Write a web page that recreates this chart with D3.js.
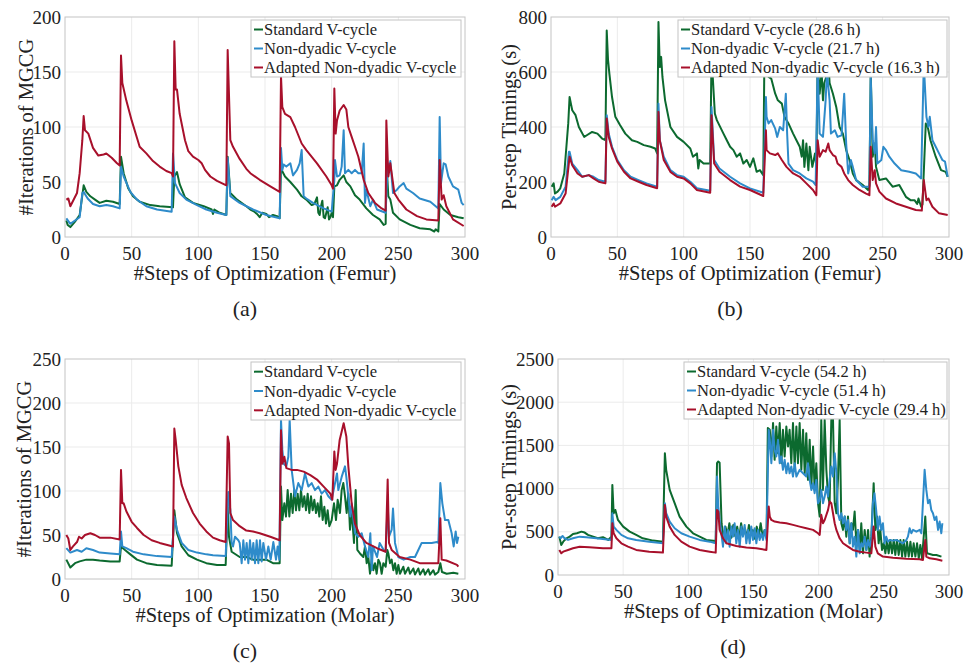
<!DOCTYPE html>
<html>
<head>
<meta charset="utf-8">
<script src="https://cdn.jsdelivr.net/npm/d3@7"></script>
<style>
  body { margin: 0; background: #fff; }
</style>
</head>
<body>
<script>
// ---- data: [step, value] ----
var femurItStd = [[1,15],[2,11],[4,9],[7.5,14],[11,20],[14,47],[16,41],[19,37],[22.5,34],[26,31],[31,33],[36,32],[41,30],[42,73],[44,58],[47.5,44],[51,37],[56,32],[64,29],[71,28],[81,27],[82,55],[84,59],[86,48],[90,36],[96,31],[104,28],[110,25],[111,21],[112,25],[116,22],[121,20],[122,73],[124,40],[129,34],[136,28],[139,25],[142,23],[144,21],[146,18],[148,22],[151,21],[153,18],[156,20],[159,19],[161,17],[162,62],[165,55],[169,50],[174,43],[177.5,37],[181,34],[185,29],[187,30],[189,36],[190,22],[191,20],[192,28],[193,33],[194,18],[195,17],[197,27],[198,16],[199,18],[200,22],[201,18],[202,46],[204,47],[206,52],[209,56],[211,50],[214,46],[217.5,38],[221,34],[226,26],[231,20],[236,16],[239,11],[240.5,12],[241,70],[242.5,37],[244,34],[246,22],[251,16],[259,11],[266,8],[274,7],[277,5],[278,7],[280,5],[281,30],[284,25],[289,20],[295,18],[299,17]];
var femurItNon = [[1,17],[4,12],[7.5,15],[11,18],[13,40],[14,41],[17,35],[21,30],[26,28],[31,29],[36,28],[41,26],[42,64],[44,55],[49,41],[54,34],[61,28],[69,25],[80,23],[81,76],[82.5,49],[86,40],[91,34],[99,29],[106,25],[114,22],[121,20],[122,72],[124,37],[131,31],[141,25],[151,20],[161,17],[162,81],[163,61],[164,66],[166,64],[169,67],[171,56],[174,61],[176,67],[177.5,79],[179,37],[181,35],[186,31],[194,26],[200,23],[202,52],[202.5,70],[204,55],[206,56],[207.5,64],[209,97],[210,58],[212.5,61],[215,58],[217.5,61],[220,58],[222.5,58],[224,85],[225,31],[226,43],[229,28],[231,34],[234,25],[240.5,22],[242,67],[243,61],[244,69],[246,40],[249,43],[251,46],[254,49],[256,44],[261,40],[266,35],[274,32],[280,26],[281,109],[282,49],[284,67],[285.5,66],[287.5,55],[291,46],[295,43],[297.5,31],[299,29]];
var femurItAda = [[1,34],[2.5,35],[4,28],[9,40],[11,58],[13,88],[14,110],[15,97],[17.5,94],[21,81],[25,74],[29,75],[31,76],[35,72],[39,67],[41,65],[42,165],[43,140],[46,124],[50,106],[54,90],[56,82],[61,76],[66,69],[71,64],[76,60],[80,58],[81,55],[82,178],[83,134],[84,134],[86,112],[90,88],[92.5,78],[96,73],[100,70],[102.5,67],[105,61],[109,55],[114,51],[121,47],[122,170],[124,88],[126,82],[131,71],[136,62],[139,58],[146,52],[154,46],[161,41],[162,146],[163,118],[165,112],[169,109],[172.5,100],[177.5,85],[181,79],[189,67],[196,55],[200,47],[201,44],[202,135],[203,94],[204,106],[206,115],[209,120],[211,116],[212.5,100],[215,91],[217.5,82],[220,73],[224,52],[227.5,40],[232.5,31],[237.5,26],[240.5,24],[241,106],[242.5,55],[244,67],[245,58],[247,40],[250,34],[256,25],[264,19],[271,16],[280,15],[281,70],[282.5,34],[284,38],[286,28],[291,16],[299,10]];

var femurTStd = [[0.5,183],[2,195],[3,158],[5,165],[7,177],[10,231],[12,352],[13,413],[14,509],[15,485],[16,461],[18.5,443],[21,400],[25,364],[27,370],[31,382],[35,376],[38.5,358],[41,352],[42,751],[43,643],[44,594],[46,509],[48.5,437],[52,407],[56,376],[61,352],[65,346],[70,334],[75,328],[78.5,322],[80,304],[81,782],[82,618],[83,655],[84,582],[86,497],[90,400],[95,364],[100,346],[105,322],[107,292],[110,304],[111,249],[112,280],[115,267],[120,267],[121,660],[123.5,449],[125,425],[130,376],[132.5,352],[135,328],[137.5,316],[140,292],[142.5,304],[145,267],[147.5,280],[150,255],[152.5,286],[155,237],[157.5,243],[160,225],[161,720],[164,582],[166,576],[169,521],[171,497],[174,485],[176,437],[179,413],[182.5,376],[185,352],[187.5,328],[189,292],[190,352],[191,255],[192.5,340],[194,243],[195,328],[197,255],[199,304],[200,255],[201,640],[202.5,521],[204,600],[205,497],[206,560],[208,590],[209,640],[210,560],[212.5,521],[215,473],[217.5,400],[220,376],[222.5,316],[225,280],[227.5,231],[230,207],[235,189],[239,171],[240,189],[241,600],[242.5,292],[244,340],[245,255],[247.5,207],[252.5,213],[257.5,183],[262.5,189],[267.5,146],[271,134],[274,134],[276,120],[277,140],[279,110],[280,118],[282.5,413],[284,400],[286,352],[290,292],[294,243],[297.5,237],[299,219]];
var femurTNon = [[0.5,134],[2,146],[3.5,134],[7,146],[11,183],[13.5,310],[14,310],[16,267],[20,243],[23.5,219],[28.5,225],[32,219],[36,207],[41,201],[42,443],[43.5,376],[46,328],[50,280],[55,243],[60,219],[66,207],[72,195],[80,183],[81,485],[82,352],[85,292],[90,243],[95,225],[100,219],[105,201],[110,177],[120,168],[121,473],[123,280],[127,249],[135,219],[142.5,195],[150,177],[160,161],[162,509],[162.5,437],[164,413],[166,425],[169,394],[170.5,364],[172.5,400],[175,388],[177,521],[178,376],[179,267],[182.5,243],[187.5,231],[192.5,213],[197.5,201],[199.5,189],[201,620],[202.5,376],[205,364],[207,497],[208,600],[210,497],[211,376],[214,388],[216,364],[219,370],[221,521],[222.5,340],[224,231],[226,280],[227.5,255],[230,207],[235,183],[240,183],[241,580],[242.5,352],[244,304],[245,400],[246,267],[249,280],[250.5,328],[252.5,316],[255,292],[259,267],[264,243],[270,237],[275,231],[279,213],[281,630],[283,437],[284.5,400],[285.5,437],[287.5,352],[290,328],[292.5,304],[295,280],[297,274],[299,219]];
var femurTAda = [[0.5,110],[2,122],[3,110],[7,122],[11,158],[14,292],[16,261],[20,231],[23.5,219],[28.5,225],[32,213],[36,201],[41,195],[42,431],[43.5,364],[46,322],[50,274],[55,237],[60,213],[66,201],[72,189],[80,177],[81,455],[82,352],[85,280],[90,237],[95,219],[100,213],[105,195],[110,171],[120,161],[121,443],[123,267],[127,237],[135,207],[142.5,183],[150,171],[160,149],[162,388],[162.5,316],[165,304],[169,298],[171,304],[174,280],[177.5,255],[182.5,231],[187.5,219],[192.5,195],[197.5,171],[200,152],[201,352],[202.5,292],[205,316],[207,310],[209,340],[210,316],[212.5,298],[214.5,292],[216,267],[219,255],[221,231],[224,207],[227.5,189],[232.5,171],[237.5,158],[240,152],[241,328],[242.5,207],[244,243],[245,195],[247.5,165],[252.5,140],[260,122],[267.5,110],[275,98],[279.5,96],[281,207],[283,134],[284.5,140],[287.5,110],[292.5,86],[299,80]];

var molarItStd = [[1,22],[4,13],[7.5,18],[11,20],[16,22],[21,22],[26,21],[34,20],[41,20],[42,37],[45,33],[49,28],[54,22],[61,18],[69,16],[80,15],[82,78],[84,52],[87.5,37],[92.5,27],[99,22],[106,18],[114,16],[120.5,16],[122,82],[123,48],[125,31],[131,25],[136,25],[141,22],[144,22],[151,22],[156,18],[161,18],[162,105],[163,67],[164.5,86],[165.75,71],[167,101],[168.25,71],[169.5,97],[170.75,75],[172,101],[173.25,78],[174.5,97],[175.75,78],[177,101],[178.25,82],[179.5,94],[180.75,78],[182,97],[183.25,75],[184.5,94],[185.75,78],[187,90],[188.25,75],[189.5,86],[190.75,71],[192,94],[193.25,67],[194.5,82],[195.75,63],[197,78],[198.25,60],[200,67],[201.75,86],[203.25,67],[204.5,90],[206.25,75],[207.5,101],[208.75,109],[210,94],[211.25,75],[212.5,97],[213.75,56],[215,78],[216.75,41],[218,101],[219.25,33],[221.25,29],[223.75,25],[225,37],[226.25,18],[227.5,25],[228.75,6],[230,22],[231.25,10],[232.5,18],[233.75,6],[235,22],[236.25,18],[237.5,6],[238.75,18],[240.5,14],[241.75,33],[242.5,29],[243.75,18],[245,22],[246.25,10],[247.5,18],[248.75,6],[250,16],[251.25,6],[253.75,14],[255,6],[257.5,13],[258.75,6],[261.25,12],[262.5,5],[265,12],[266.25,5],[268.75,11],[270,5],[272.5,11],[273.75,5],[276.25,10],[277.5,5],[280,8],[281.5,18],[282.75,8],[286.25,6],[291.25,7],[295,6]];
var molarItNon = [[1,35],[4,30],[9,33],[12.5,31],[16,35],[21,33],[26,30],[34,29],[41,28],[42,54],[43,37],[46,35],[51,31],[59,28],[69,26],[80,25],[82,71],[84,56],[87.5,41],[92.5,33],[99,30],[106,28],[111,27],[120.5,26],[122.5,99],[124,78],[125,41],[126,37],[127.5,48],[130,44],[131,41],[132.5,18],[133.75,44],[135,22],[136.25,41],[137.5,18],[138.75,44],[140,22],[141.25,41],[142.5,18],[143.75,44],[145,18],[146.25,44],[147.5,20],[148.75,41],[150.75,22],[152.5,37],[154.25,22],[156.25,42],[158.25,22],[159.5,37],[160.75,22],[162,181],[163,147],[164,131],[166,128],[167.5,139],[168.5,181],[170,124],[172.5,94],[175,109],[177.5,101],[180,120],[182.5,105],[185,109],[187.5,101],[190,105],[192.5,97],[195,101],[197.5,94],[200,90],[202,105],[204,120],[205,101],[207.5,116],[210,128],[211,116],[212.5,94],[214,71],[215,86],[217.5,52],[220,48],[222.5,52],[225,37],[227.5,25],[229,52],[230,10],[231,37],[234,25],[236,41],[239,33],[240.5,31],[242,86],[243,48],[245,56],[246,80],[247.5,41],[250,25],[254,22],[259,25],[262.5,25],[265,33],[267.5,41],[271,41],[275,41],[279,42],[280,41],[281.5,109],[283,86],[285,67],[287.5,67],[290,52],[291.5,37],[293,54],[294,41],[295,48]];
var molarItAda = [[1,50],[2.5,46],[4,33],[6,37],[9,42],[10.5,48],[12.5,46],[15,50],[19,52],[22.5,50],[26,47],[34,47],[41,45],[42,124],[43,86],[44,86],[46,77],[50,65],[54,58],[59,50],[65,44],[71,41],[81,37],[82,171],[83,158],[85,128],[87.5,107],[91,92],[96,75],[101,63],[106,54],[111,47],[116,44],[120.5,42],[122,162],[123,154],[124,75],[126,67],[131,60],[136,55],[141,54],[146,52],[154,48],[161,44],[162,169],[163,131],[164.5,139],[166,126],[170,124],[174,124],[179,122],[184,118],[189,113],[194,105],[199,97],[200.5,90],[202,145],[203,124],[204,131],[206,158],[209,177],[211,162],[212.5,128],[215,86],[217.5,63],[221,50],[226,41],[234,35],[240.5,31],[242,113],[243,41],[245,33],[251,25],[259,22],[266,18],[274,18],[280,18],[281.5,69],[282.5,22],[286,21],[294,16],[295,14]];

var molarTStd = [[1,444],[2.5,348],[4,386],[6.5,425],[9,444],[11.5,475],[14.5,483],[18,502],[20.5,491],[23,464],[27,444],[30.5,425],[34.5,437],[38.5,406],[41,444],[41.7,1043],[42.7,715],[44,753],[46,637],[50,560],[55,502],[60,464],[65,425],[73,398],[80.5,386],[82,1410],[83,1217],[85.7,985],[89.5,831],[93.3,676],[98.5,560],[103.6,483],[108.7,444],[113.8,406],[121,394],[122,1294],[123,1314],[124,1300],[125.5,599],[127,420],[128.5,560],[130,460],[131.5,600],[133,430],[134.5,580],[136,450],[137.5,560],[139,420],[140.5,600],[142,460],[143.5,540],[145,430],[146.5,580],[148,470],[149.5,520],[151,420],[152.5,560],[154,450],[155.5,600],[157,440],[158.5,520],[160,430],[161,1700],[162.5,1680],[163.7,1372],[165,1758],[166.2,1333],[167.5,1719],[168.8,1410],[170.1,1758],[171.4,1294],[172.6,1680],[173.9,1372],[175.2,1719],[176.5,1487],[177.7,1680],[179,1294],[180.3,1758],[181.6,1256],[182.9,1719],[184.1,1294],[185.4,1758],[186.7,1217],[188,1680],[189.3,1178],[190.5,1642],[191.8,1101],[193.1,1565],[194.4,1024],[195.7,1487],[196.9,985],[198.2,1294],[199.5,831],[200.8,676],[202,1797],[203.3,985],[204.6,1797],[205.9,1217],[207.2,908],[208.4,831],[209.7,1797],[211,1800],[212.3,831],[213.6,715],[214.8,1101],[216.1,1797],[217.4,599],[218.7,522],[220,676],[221.2,444],[222.5,676],[223.8,367],[225.1,599],[226.3,522],[227.6,734],[228.9,367],[230.2,522],[231.5,290],[232.7,599],[234,251],[235.3,522],[236.6,290],[237.9,522],[239.1,213],[240.4,444],[242.2,1063],[243.5,522],[244.8,676],[246,367],[247.3,522],[248.6,290],[249.9,367],[251.2,251],[252.4,406],[253.7,251],[255,406],[256.3,251],[257.6,406],[258.8,232],[260.1,406],[261.4,232],[262.7,406],[264,213],[265.2,406],[266.5,213],[267.8,386],[269.1,213],[270.4,386],[271.6,213],[272.9,367],[274.2,213],[275.5,367],[276.8,193],[278,348],[279.3,193],[281.8,676],[283.1,251],[285.2,243],[287.7,232],[290.3,232],[294.2,213]];
var molarTNon = [[1,444],[2,425],[3.5,452],[5,425],[7.7,406],[11.5,425],[16.6,444],[21.7,437],[29.4,425],[41,406],[41.7,715],[42.7,560],[44.8,522],[48.6,464],[53.7,425],[60,406],[70,386],[80.5,367],[82,831],[83,715],[85.7,618],[89.5,541],[94.6,483],[101,444],[108.7,406],[116.4,386],[121,367],[122,1140],[123,792],[124,637],[125,522],[126.6,328],[127.9,560],[129.2,367],[130.4,522],[131.7,328],[133,560],[134.3,444],[135.5,599],[136.8,367],[138.1,522],[139.4,328],[140.7,560],[141.9,444],[143.2,580],[144.5,367],[145.8,522],[147.1,367],[148.3,560],[149.6,406],[150.9,541],[152.2,367],[153.5,522],[154.7,406],[156,483],[157.3,406],[158.6,522],[159.9,406],[161.7,1680],[162.5,1565],[163.7,1294],[165,1680],[166.2,1449],[167.5,1372],[168.8,1565],[170.1,1294],[171.4,1372],[172.6,1217],[173.9,1333],[175.2,1178],[176.5,1294],[177.7,1178],[179,1256],[180.3,1140],[181.6,1294],[182.9,1140],[185.4,1217],[188,1178],[190.5,1140],[191.8,1294],[193.1,1101],[194.4,985],[195.7,1063],[196.9,947],[198.2,1101],[199.5,831],[200.8,869],[202,985],[203.3,831],[204.6,908],[205.9,1024],[207.2,908],[208.4,1101],[209.7,1256],[211,1140],[212.3,1410],[213.6,1178],[214.8,715],[216.1,637],[217.4,715],[218.7,599],[220,676],[221.2,522],[222.5,637],[223.8,367],[225.1,599],[226.3,328],[227.6,444],[228.9,213],[230.2,522],[231.5,251],[232.7,367],[234,328],[235.3,444],[236.6,290],[237.9,406],[239.1,328],[240.4,406],[241.6,831],[242.8,947],[244.1,753],[245.4,522],[246.7,676],[248,522],[249.3,599],[250.5,367],[251.8,444],[253.1,386],[254.5,406],[257,398],[259.6,406],[262.1,386],[264.7,367],[267.3,406],[268.5,444],[269.8,541],[271.1,483],[272.4,522],[275,502],[277.5,522],[278.8,483],[281.3,1217],[282.6,985],[283.9,831],[285.2,869],[286.4,753],[287.7,715],[289,637],[290.3,676],[291.6,522],[292.8,618],[294.1,483],[294.9,599]];
var molarTAda = [[1,290],[2.5,251],[4,270],[7.7,290],[11.5,309],[16.6,328],[24,321],[34.5,309],[41,309],[41.7,599],[42.7,483],[44.8,425],[48.6,367],[53.7,328],[60,290],[70,270],[80.5,259],[82,811],[83,676],[85.7,560],[89.5,464],[94.6,386],[101,328],[108.7,290],[116.4,270],[121,259],[122,753],[123,734],[124,522],[126.6,425],[129.2,367],[136.8,336],[144.5,317],[152.2,309],[159.9,290],[161.7,792],[162.5,676],[163.7,637],[166.2,618],[170.1,607],[175.2,599],[180.3,580],[185.4,560],[190.5,541],[195.7,522],[199.5,483],[200.8,464],[202,696],[203.3,599],[204.6,637],[207.2,753],[208.4,850],[209.7,831],[211,715],[212.3,599],[213.6,522],[216.1,425],[218.7,367],[222.5,328],[226.3,290],[231.5,270],[236.6,259],[240.4,251],[242.2,560],[243.5,328],[245.4,251],[249.3,213],[257,201],[267.3,189],[277.5,182],[280,174],[281.8,406],[282.6,213],[285.2,193],[290.3,182],[294.9,166]];

var xTicks = [0, 50, 100, 150, 200, 250, 300];
var namesIt = ["Standard V-cycle", "Non-dyadic V-cycle", "Adapted Non-dyadic V-cycle"];
var namesFemurT = ["Standard V-cycle (28.6 h)", "Non-dyadic V-cycle (21.7 h)", "Adapted Non-dyadic V-cycle (16.3 h)"];
var namesMolarT = ["Standard V-cycle (54.2 h)", "Non-dyadic V-cycle (51.4 h)", "Adapted Non-dyadic V-cycle (29.4 h)"];

var colors = ["#0c6a2f", "#2e8bca", "#a8102b"];
var serif = "'Liberation Serif', 'Times New Roman', Times, serif";

var svg = d3.select("body").append("svg")
    .attr("width", 976)
    .attr("height", 664)
    .attr("font-family", serif)
    .style("font-family", serif);

var panels = [
  { l: 65, r: 465, t: 17, b: 237, ymax: 200, ystep: 50, series: [femurItStd, femurItNon, femurItAda],
    names: namesIt, ylab: "#Iterations of MGCG", ylx: 26, xlab: "#Steps of Optimization (Femur)",
    cap: "(a)", capx: 245, leg: [251, 20, 461, 77] },
  { l: 551, r: 949, t: 17, b: 237, ymax: 800, ystep: 200, series: [femurTStd, femurTNon, femurTAda],
    names: namesFemurT, ylab: "Per-step Timings (s)", ylx: 509, xlab: "#Steps of Optimization (Femur)",
    cap: "(b)", capx: 730, leg: [678, 20, 947, 77] },
  { l: 65, r: 465, t: 359, b: 579, ymax: 250, ystep: 50, series: [molarItStd, molarItNon, molarItAda],
    names: namesIt, ylab: "#Iterations of MGCG", ylx: 24, xlab: "#Steps of Optimization (Molar)",
    cap: "(c)", capx: 245, leg: [251, 362, 461, 420] },
  { l: 558, r: 949, t: 359, b: 575, ymax: 2500, ystep: 500, series: [molarTStd, molarTNon, molarTAda],
    names: namesMolarT, ylab: "Per-step Timings (s)", ylx: 509, xlab: "#Steps of Optimization (Molar)",
    cap: "(d)", capx: 733, leg: [684, 362, 947, 419] }
];

panels.forEach(function (p) {
  var x = d3.scaleLinear().domain([0, 300]).range([p.l, p.r]);
  var y = d3.scaleLinear().domain([0, p.ymax]).range([p.b, p.t]);
  var yTicks = d3.range(0, p.ymax + 1, p.ystep);
  var g = svg.append("g");

  // grid
  g.selectAll(".gx").data(xTicks.slice(1, -1)).enter().append("line")
    .attr("x1", d => x(d)).attr("x2", d => x(d))
    .attr("y1", p.t).attr("y2", p.b)
    .attr("stroke", "#ebebeb").attr("stroke-width", 1);
  g.selectAll(".gy").data(yTicks.slice(1, -1)).enter().append("line")
    .attr("x1", p.l).attr("x2", p.r)
    .attr("y1", d => y(d)).attr("y2", d => y(d))
    .attr("stroke", "#ebebeb").attr("stroke-width", 1);

  // box
  g.append("rect")
    .attr("x", p.l).attr("y", p.t)
    .attr("width", p.r - p.l).attr("height", p.b - p.t)
    .attr("fill", "none").attr("stroke", "#c4c4c4").attr("stroke-width", 1);

  // tick labels
  g.selectAll(".tx").data(xTicks).enter().append("text")
    .attr("x", d => x(d)).attr("y", p.b + 16)
    .attr("dy", "0.35em").attr("text-anchor", "middle")
    .attr("fill", "#222").style("font-size", "19px").text(d => d);
  g.selectAll(".ty").data(yTicks).enter().append("text")
    .attr("x", p.l - 4).attr("y", d => y(d))
    .attr("dy", "0.35em").attr("text-anchor", "end")
    .attr("fill", "#222").style("font-size", "19px").text(d => d);

  // axis titles
  g.append("text")
    .attr("transform", "translate(" + p.ylx + "," + ((p.t + p.b) / 2) + ") rotate(-90)")
    .attr("dy", "0.35em").attr("text-anchor", "middle")
    .attr("fill", "#222").style("font-size", "20.5px").text(p.ylab);
  g.append("text")
    .attr("x", (p.l + p.r) / 2).attr("y", p.b + 36)
    .attr("dy", "0.35em").attr("text-anchor", "middle")
    .attr("fill", "#222").style("font-size", "20.5px").text(p.xlab);
  g.append("text")
    .attr("x", p.capx).attr("y", p.b + 71)
    .attr("dy", "0.35em").attr("text-anchor", "middle")
    .attr("fill", "#222").style("font-size", "22px").text(p.cap);

  // lines
  var line = d3.line().x(d => x(d[0])).y(d => y(d[1]));
  p.series.forEach(function (s, i) {
    g.append("path").datum(s)
      .attr("d", line)
      .attr("fill", "none")
      .attr("stroke", colors[i])
      .attr("stroke-width", 2)
      .attr("stroke-linejoin", "round");
  });

  // legend
  var L = p.leg;
  g.append("rect")
    .attr("x", L[0]).attr("y", L[1])
    .attr("width", L[2] - L[0]).attr("height", L[3] - L[1])
    .attr("fill", "#fff").attr("stroke", "#c4c4c4").attr("stroke-width", 1);
  var rowH = (L[3] - L[1]) / 3;
  p.names.forEach(function (n, i) {
    var cy = L[1] + rowH * (i + 0.5);
    g.append("line")
      .attr("x1", L[0] + 3).attr("x2", L[0] + 12)
      .attr("y1", cy).attr("y2", cy)
      .attr("stroke", colors[i]).attr("stroke-width", 2);
    g.append("text")
      .attr("x", L[0] + 13).attr("y", cy)
      .attr("dy", "0.35em")
      .attr("fill", "#222").style("font-size", "16.5px").text(n);
  });
});
</script>
</body>
</html>
